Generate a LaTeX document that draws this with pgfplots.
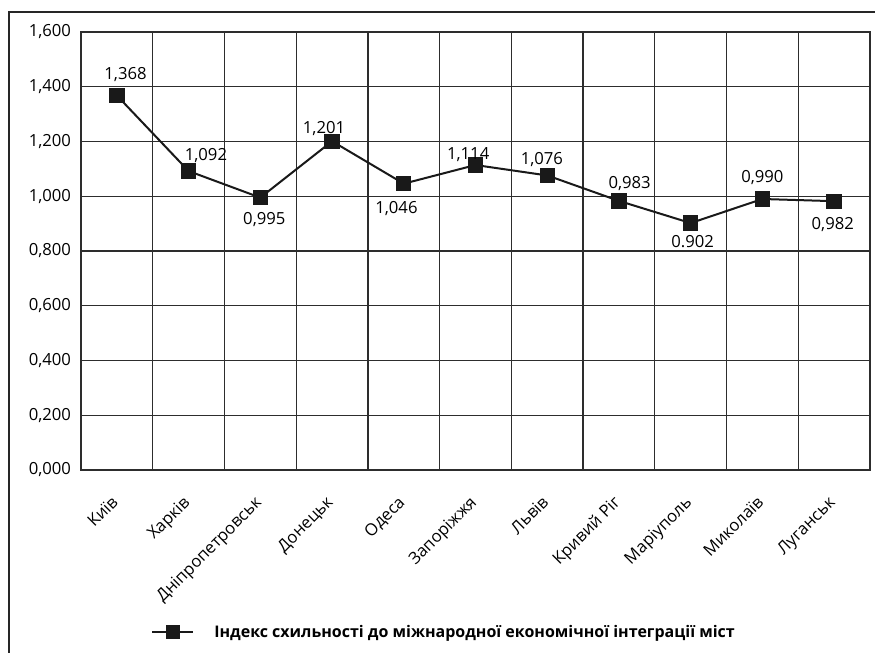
\documentclass[border=0pt]{standalone}
\usepackage{fontspec}
\setmainfont{Open Sans}
\usepackage{pgfplots}
\pgfplotsset{compat=1.18}
\usepackage{pgfplotstable}
\pgfplotstableread{
x y lbl dy dx
0 1.368 {1,368} 12 6.5
1 1.092 {1,092} 8 13
2 0.995 {0,995} -20 3
3 1.201 {1,201} 6 -6
4 1.046 {1,046} -22.5 -5.5
5 1.114 {1,114} 4.5 -5.5
6 1.076 {1,076} 8 -4
7 0.983 {0,983} 9.5 8
8 0.902 {0.902} -18 1.5
9 0.990 {0,990} 12 0
10 0.982 {0,982} -21 -1
}\datatable
\definecolor{gridc}{RGB}{45,45,45}
\begin{document}
\begin{tikzpicture}
\draw[line width=1.6pt, color=black!85] (-54pt,-160pt) rectangle (620pt,343.5pt);
\begin{axis}[
  at={(0pt,0pt)}, anchor=south west,
  scale only axis,
  width=591.75pt, height=328.5pt,
  xmin=-0.5, xmax=10.5,
  ymin=0, ymax=1.6,
  ytick={0,0.2,...,1.6},
  xtick={0,...,10},
  xticklabels={Київ,Харків,Дніпропетровськ,Донецьк,Одеса,Запоріжжя,Львів,Кривий Ріг,Маріуполь,Миколаїв,Луганськ},
  minor xtick={-0.5,0.5,...,10.5},
  xminorgrids=true, ymajorgrids=true,
  major tick length=0pt, minor tick length=0pt,
  grid style={line width=1pt, color=gridc},
  minor grid style={line width=1pt, color=gridc},
  axis line style={line width=1pt, color=gridc},
  /pgf/number format/assume math mode=true,
  yticklabel style={/pgf/number format/.cd, fixed, fixed zerofill, precision=3, use comma, /tikz/.cd, font=\fontsize{12.5}{15}\selectfont, xshift=-4pt},
  xticklabel style={xshift=-5pt, yshift=-17pt, rotate=45, anchor=north east, font=\fontsize{12.5}{15}\selectfont, inner sep=1pt},
  legend style={at={(0.0887,-0.37)}, anchor=west, draw=none, fill=none, inner sep=0pt,
    font=\bfseries\fontsize{12}{14}\selectfont, column sep=15pt, nodes={inner sep=0pt, anchor=west}},
  legend image code/.code={\draw[#1, mark repeat=2, mark phase=2, mark size=4.5pt] plot coordinates {(0pt,0pt)(15.4pt,0pt)(30.8pt,0pt)};},
  clip=false,
]
\addplot[line width=1.5pt, color=black!90, mark=square*, mark size=5pt,
  mark options={fill=black!90, draw=black!90},
  point meta=explicit symbolic,
  visualization depends on={\thisrow{dy} \as \dy},
  visualization depends on={\thisrow{dx} \as \dx},
  nodes near coords,
  nodes near coords style={anchor=base, yshift=\dy, xshift=\dx, font=\fontsize{12.5}{15}\selectfont, color=black, inner sep=0pt},
] table[x=x, y=y, meta=lbl] {\datatable};
\addlegendentry{Індекс схильності до міжнародної економічної інтеграції міст}
\end{axis}
\pgfresetboundingbox
\useasboundingbox (-60.75pt,-137.25pt) rectangle (595.5pt,352.5pt);
\end{tikzpicture}
\end{document}
